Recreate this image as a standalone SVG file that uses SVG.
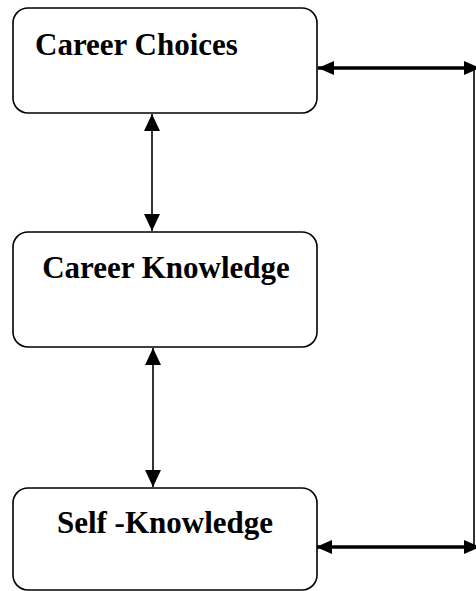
<svg xmlns="http://www.w3.org/2000/svg" width="476" height="591" viewBox="0 0 476 591">
<style>
.box{fill:#fff;stroke:#000;stroke-width:1.6}
.lbl{font-family:"Liberation Serif","Times New Roman",serif;font-weight:bold;font-size:31px;fill:#000}
.thin{stroke:#000;stroke-width:1.6;fill:none}
.thick{stroke:#000;stroke-width:3.5;fill:none}
</style>
<defs>
<marker id="ah" viewBox="0 0 16 14" refX="16" refY="7" markerWidth="16" markerHeight="14" markerUnits="userSpaceOnUse" orient="auto-start-reverse">
<path d="M0,0 L16,7 L0,14 Z" fill="#000"/>
</marker>
<marker id="ahv" viewBox="0 0 17 16" refX="17" refY="8" markerWidth="17" markerHeight="16" markerUnits="userSpaceOnUse" orient="auto-start-reverse">
<path d="M0,0 L17,8 L0,16 Z" fill="#000"/>
</marker>
</defs>
<rect width="476" height="591" fill="#fff"/>
<g id="connectors">
<line class="thin" x1="152" y1="114" x2="152" y2="231" marker-start="url(#ahv)" marker-end="url(#ahv)"/>
<line class="thin" x1="153" y1="348" x2="153" y2="487" marker-start="url(#ahv)" marker-end="url(#ahv)"/>
<line class="thin" x1="474" y1="68" x2="474" y2="548"/>
<line class="thick" x1="318" y1="68" x2="480" y2="68" marker-start="url(#ah)" marker-end="url(#ah)"/>
<line class="thick" x1="316" y1="547" x2="480" y2="547" marker-start="url(#ah)" marker-end="url(#ah)"/>
</g>
<g id="career-choices">
<rect class="box" x="13" y="8" width="304" height="105" rx="15"/>
<text class="lbl" x="35" y="55">Career Choices</text>
</g>
<g id="career-knowledge">
<rect class="box" x="13" y="232" width="304" height="115" rx="15"/>
<text class="lbl" x="166" y="278" text-anchor="middle">Career Knowledge</text>
</g>
<g id="self-knowledge">
<rect class="box" x="13" y="488" width="304" height="102" rx="15"/>
<text class="lbl" x="165" y="533" text-anchor="middle">Self -Knowledge</text>
</g>
</svg>
